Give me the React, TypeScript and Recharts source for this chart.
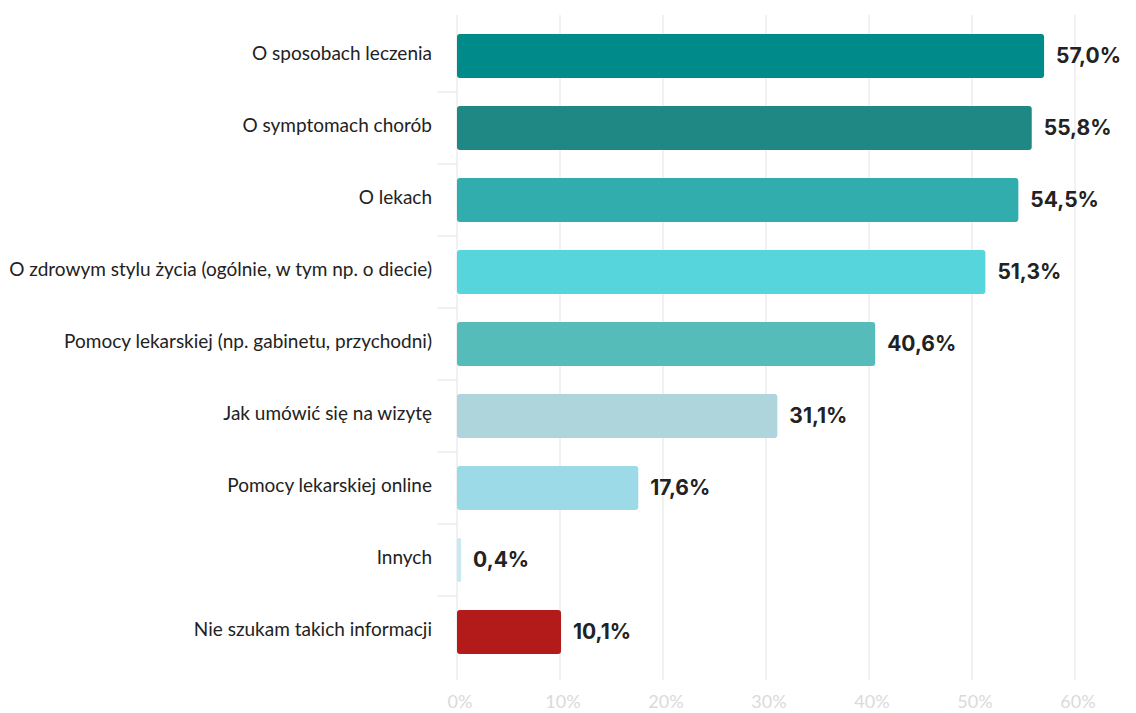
import React from 'react';
import { Bar, BarChart, CartesianGrid, Cell, LabelList, XAxis, YAxis } from 'recharts';

const categories = [
  'O sposobach leczenia',
  'O symptomach chorób',
  'O lekach',
  'O zdrowym stylu życia (ogólnie, w tym np. o diecie)',
  'Pomocy lekarskiej (np. gabinetu, przychodni)',
  'Jak umówić się na wizytę',
  'Pomocy lekarskiej online',
  'Innych',
  'Nie szukam takich informacji',
];
const shares = [57.0, 55.8, 54.5, 51.3, 40.6, 31.1, 17.6, 0.4, 10.1];
const barColors = [
  '#008b8a',
  '#1f8784',
  '#31adad',
  '#56d6dc',
  '#56bcba',
  '#aed4dc',
  '#9cdae7',
  '#c8e9f0',
  '#b31b1b',
];
const xTicks = [0, 10, 20, 30, 40, 50, 60];

const data = categories.map((name, i) => ({ name, value: shares[i] }));

const AXIS_X = 449;
const BAND = 72;

function fmt(v: number): string {
  return v.toFixed(1).replace('.', ',') + '%';
}

function CategoryTick(props: any) {
  const { y, payload, index } = props;
  const last = index === categories.length - 1;
  return (
    <g>
      <text
        x={AXIS_X - 25}
        y={y}
        dy={4}
        textAnchor="end"
        fill="#222"
        style={{ fontFamily: 'Lato', fontSize: 19 }}
      >
        {payload.value}
      </text>
      {!last && (
        <line
          x1={AXIS_X - 20}
          x2={AXIS_X}
          y1={y + BAND / 2}
          y2={y + BAND / 2}
          stroke="#e3e3e3"
          strokeWidth={1}
        />
      )}
    </g>
  );
}

export default function App() {
  return (
    <BarChart
      width={1120}
      height={705}
      data={data}
      layout="vertical"
      margin={{ top: 7, right: 53, bottom: 0, left: 0 }}
    >
      <CartesianGrid horizontal={false} stroke="#e3e3e3" />
      <XAxis
        type="number"
        domain={[0, 60]}
        ticks={xTicks}
        tickFormatter={(v: number) => `${v}%`}
        axisLine={false}
        tickLine={false}
        height={33}
        tick={{ fontFamily: 'Lato', fontSize: 18, fill: '#dadada', dx: 3, dy: 7 }}
        interval={0}
      />
      <YAxis
        type="category"
        dataKey="name"
        width={449}
        axisLine={false}
        tickLine={false}
        padding={{ top: 5, bottom: 12 }}
        tick={<CategoryTick />}
        interval={0}
      />
      <Bar dataKey="value" barSize={44} radius={3} isAnimationActive={false}>
        {data.map((d, i) => (
          <Cell key={d.name} fill={barColors[i]} />
        ))}
        <LabelList
          dataKey="value"
          position="right"
          offset={12}
          formatter={(v: number) => fmt(v)}
          style={{ fontFamily: 'Inter', fontSize: 21, fontWeight: 700, fill: '#222' }}
        />
      </Bar>
    </BarChart>
  );
}
